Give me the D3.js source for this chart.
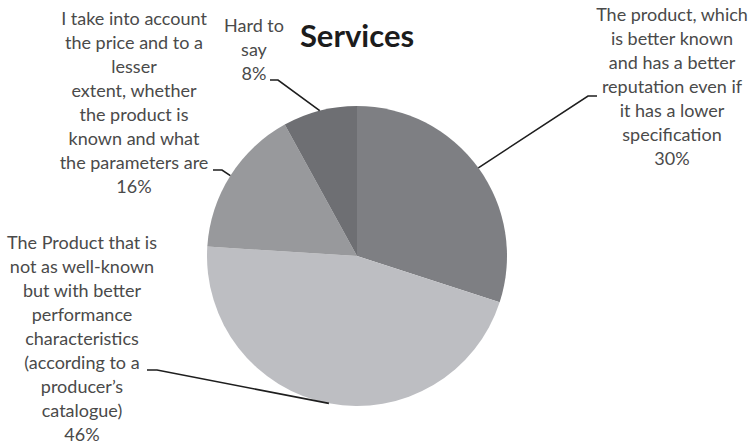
<!DOCTYPE html>
<html>
<head>
<meta charset="utf-8">
<script src="https://cdn.jsdelivr.net/npm/d3@7"></script>
<style>
  html, body { margin: 0; padding: 0; background: #fff; }
  svg { display: block; }
</style>
</head>
<body>
<svg id="chart" width="749" height="447"></svg>
<script>
// Survey answers: which product is chosen (services)
const categories = [
  "The product, which|is better known|and has a better|reputation even if|it has a lower|specification",
  "The Product that is|not as well-known|but with better|performance|characteristics|(according to a|producer\u2019s|catalogue)",
  "I take into account|the price and to a|lesser|extent, whether|the product is|known and what|the parameters are",
  "Hard to|say"
];
const shares = [30, 46, 16, 8];
const percentLabels = ["30%", "46%", "16%", "8%"];
const sliceColors = ["#7e7f83", "#bdbec2", "#98999c", "#6e6f73"];

// Label placement: text centre, first baseline, and the leader elbow
const labelLayout = [
  { x: 672, y: 21,  elbowX: 588, tickX: 597, tickY: 96 },
  { x: 82,  y: 249, elbowX: 157, tickX: 147, tickY: 370 },
  { x: 134, y: 25,  elbowX: 222, tickX: 213, tickY: 170 },
  { x: 254, y: 32,  elbowX: 278, tickX: 270, tickY: 80 }
];

const width = 749, height = 447;
const cx = 357, cy = 256, radius = 150;
const lineHeight = 24;

const svg = d3.select("#chart");

svg.append("text")
  .attr("x", 357)
  .attr("y", 47)
  .attr("text-anchor", "middle")
  .attr("font-family", "Lato, 'Open Sans', sans-serif")
  .attr("font-weight", "bold")
  .attr("font-size", 31)
  .attr("fill", "#1c1c1c")
  .text("Services");

const pie = d3.pie().sort(null).value(d => d)(shares);
const arc = d3.arc().innerRadius(0).outerRadius(radius);
const rim = d3.arc().innerRadius(radius).outerRadius(radius);

const g = svg.append("g").attr("transform", `translate(${cx},${cy})`);

g.selectAll("path.slice")
  .data(pie)
  .join("path")
  .attr("class", "slice")
  .attr("d", arc)
  .attr("fill", (d, i) => sliceColors[i]);

// Leader lines from the middle of each arc to its label
svg.selectAll("polyline.leader")
  .data(pie)
  .join("polyline")
  .attr("class", "leader")
  .attr("fill", "none")
  .attr("stroke", "#1e1e1e")
  .attr("stroke-width", 1.6)
  .attr("points", (d, i) => {
    const [mx, my] = rim.centroid(d);
    const L = labelLayout[i];
    return [[cx + mx, cy + my], [L.elbowX, L.tickY], [L.tickX, L.tickY]].map(p => p.join(",")).join(" ");
  });

// Category labels with their percentage on the last line
const labels = svg.selectAll("text.label")
  .data(pie)
  .join("text")
  .attr("class", "label")
  .attr("text-anchor", "middle")
  .attr("font-family", "Lato, 'Open Sans', sans-serif")
  .attr("font-size", 18)
  .attr("fill", "#4a4a4a");

labels.each(function (d, i) {
  const L = labelLayout[i];
  const lines = categories[i].split("|").concat([percentLabels[i]]);
  d3.select(this).selectAll("tspan")
    .data(lines)
    .join("tspan")
    .attr("x", L.x)
    .attr("y", (t, k) => L.y + k * lineHeight)
    .text(t => t);
});
</script>
</body>
</html>
